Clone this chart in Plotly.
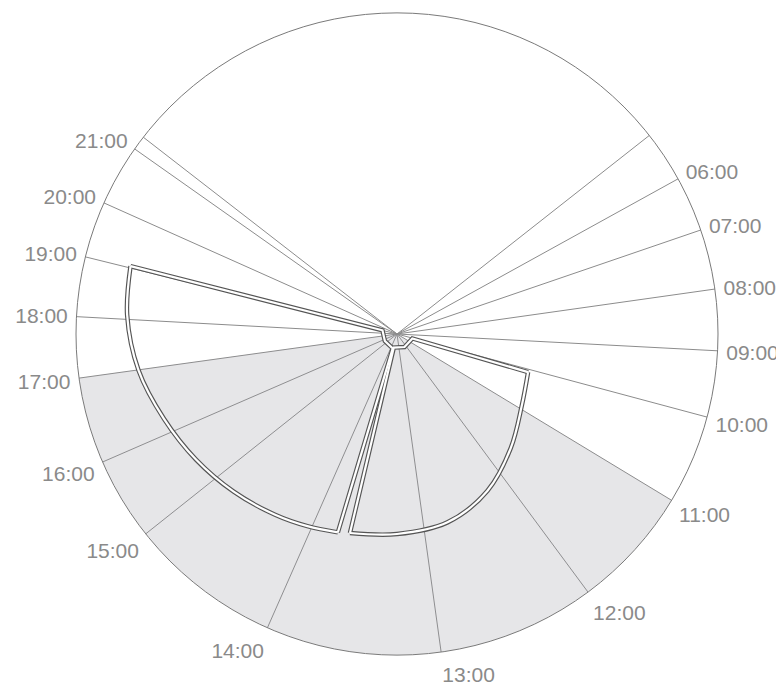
import plotly.graph_objects as go

# Hour rays (azimuth in degrees, counter-clockwise from east) and their labels
hour_labels = ["", "06:00", "07:00", "08:00", "09:00", "10:00", "11:00", "12:00",
               "13:00", "14:00", "15:00", "16:00", "17:00", "18:00", "19:00",
               "20:00", "", "21:00"]
hour_azimuth = [38.2, 28.9, 18.9, 8.05, -3.0, -15.0, -31.2, -53.5,
                -82.1, -113.8, -141.5, -156.5, -172.1, 176.9, 166.1,
                155.9, 142.2, 144.8]

# Shaded period
shade_from = "11:00"
shade_to = "17:00"
outer_r = 321

# Outlined sector 1 (afternoon / evening): edges and outer curve
sector1_edge_theta = [253.4, 253.4, 210, 165.7, 165.7]
sector1_edge_r = [207, 15, 14, 15, 275]
sector1_arc_theta = [165.7, 176, 188, 200, 212, 224, 236, 245, 253.4]
sector1_arc_r = [275, 270.5, 261, 248, 237, 227, 218, 212, 207]

# Outlined sector 2 (late morning / midday): edges and outer curve
sector2_edge_theta = [343.8, 343.8, 300, 256.7, 256.7]
sector2_edge_r = [136.5, 16, 15, 14, 204.5]
sector2_arc_theta = [256.7, 270, 285, 300, 315, 330, 343.8]
sector2_arc_r = [204.5, 200, 195, 181, 161, 144, 136.5]

tick_angles = [a % 360 for a in hour_azimuth]
a_from = tick_angles[hour_labels.index(shade_from)]
a_to = tick_angles[hour_labels.index(shade_to)]
span = (a_from - a_to) % 360
center = a_to + span / 2

fig = go.Figure()
fig.add_trace(go.Barpolar(
    r=[outer_r], theta=[center], width=[span], base=0,
    marker=dict(color="rgba(150,150,160,0.24)", line=dict(width=0)),
    hoverinfo="skip", showlegend=False))

pieces = [
    (sector1_arc_theta, sector1_arc_r, "spline"),
    (sector1_edge_theta, sector1_edge_r, "linear"),
    (sector2_arc_theta, sector2_arc_r, "spline"),
    (sector2_edge_theta, sector2_edge_r, "linear"),
]
for color, width in [("#555555", 4.5), ("#ffffff", 2.2)]:
    for th, rr, shape in pieces:
        fig.add_trace(go.Scatterpolar(
            r=rr, theta=th, mode="lines",
            line=dict(color=color, width=width, shape=shape),
            hoverinfo="skip", showlegend=False))

# page body has an 8px margin, so shift the subplot accordingly
W, H = 784, 685
off = 8
cx, cy, R = 397 - off, 334 - off, 321
fig.update_layout(
    width=W, height=H,
    margin=dict(l=0, r=0, t=0, b=0),
    paper_bgcolor="white",
    showlegend=False,
    polar=dict(
        domain=dict(x=[(cx - R) / W, (cx + R) / W],
                    y=[(H - cy - R) / H, (H - cy + R) / H]),
        bgcolor="white",
        radialaxis=dict(visible=False, range=[0, outer_r]),
        angularaxis=dict(
            direction="counterclockwise", rotation=0,
            tickmode="array", tickvals=tick_angles, ticktext=hour_labels,
            showgrid=True, gridcolor="#8c8c8c", gridwidth=0.8,
            showline=True, linecolor="#7a7a7a", linewidth=1,
            ticks="outside", ticklen=4, tickcolor="rgba(0,0,0,0)",
            tickfont=dict(family="Liberation Sans, Arial, sans-serif",
                          size=21, color="#8a8a8a"),
        ),
    ),
)

fig.write_html("out.html")
